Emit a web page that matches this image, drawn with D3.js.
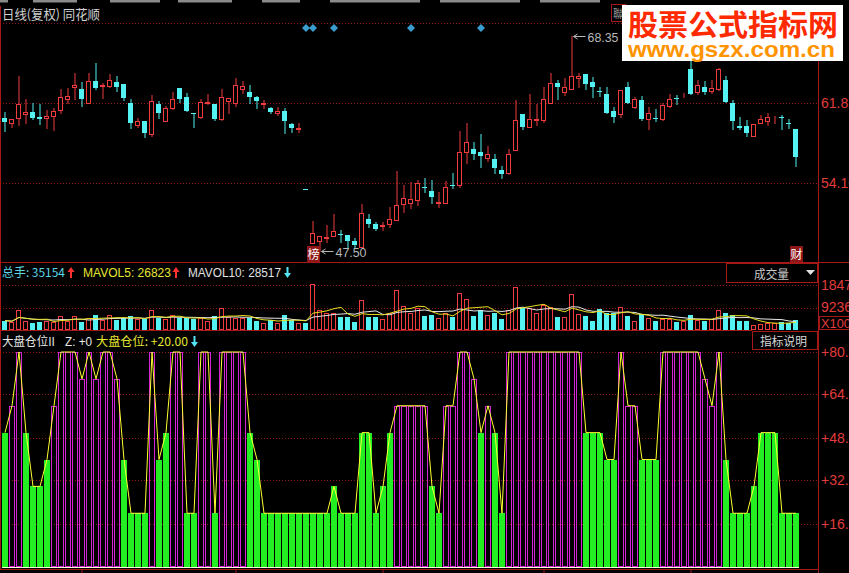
<!DOCTYPE html>
<html><head><meta charset="utf-8">
<script src="https://cdn.jsdelivr.net/npm/d3@7/dist/d3.min.js"></script>
<style>html,body{margin:0;padding:0;background:#000;overflow:hidden}svg{display:block}</style>
</head><body>
<svg id="chart" width="849" height="573"></svg>
<script>
// ---------------- data ----------------
const opens = [60.40,59.91,60.40,60.78,60.98,60.49,60.40,60.59,61.17,62.24,
63.40,63.21,61.85,63.98,63.50,63.50,63.88,63.69,61.85,59.72,
60.11,58.85,61.75,60.11,61.37,63.30,62.43,60.88,60.49,61.85,
61.75,60.30,62.04,61.85,63.21,62.92,62.43,61.75,61.37,60.88,
61.07,59.82,59.33,53.55,48.28,48.48,48.82,48.96,49.16,49.06,
48.48,47.90,50.61,50.12,49.98,50.12,50.51,52.06,52.16,52.45,
53.71,53.32,52.16,52.16,53.90,53.90,57.10,57.39,57.10,56.52,
56.42,55.36,55.07,57.30,60.78,59.52,60.25,60.20,61.85,63.79,
62.92,63.21,64.27,64.66,63.88,62.97,62.72,61.07,60.78,63.40,
61.46,62.14,60.30,60.35,60.30,61.56,62.29,62.48,65.14,62.92,
63.40,63.01,63.21,64.08,61.85,59.62,59.62,58.65,59.91,60.11,
60.35,60.54,59.96,59.33];
const closes = [60.01,60.30,61.75,60.98,60.40,60.30,60.59,61.07,62.43,62.53,
63.59,62.24,63.98,63.30,63.59,64.08,63.40,62.33,59.91,60.11,
58.94,62.04,60.88,61.37,62.24,62.24,61.07,60.85,61.95,61.95,
60.30,62.43,62.33,63.59,63.50,62.43,62.04,61.85,60.98,61.07,
60.11,59.43,59.43,53.52,49.25,48.96,48.87,49.45,49.06,48.48,
48.09,51.19,50.12,49.64,50.03,50.61,51.97,52.64,52.55,54.10,
53.61,52.74,52.26,53.71,53.81,57.10,58.07,56.91,56.71,56.91,
55.55,54.97,56.91,60.20,59.52,60.30,60.30,62.24,63.79,63.40,
63.40,64.47,64.47,63.69,63.40,62.92,60.88,60.49,63.11,61.85,
62.24,60.30,60.88,60.30,61.66,62.24,62.24,62.53,62.72,63.59,
62.92,63.30,65.14,61.95,60.11,59.43,58.94,59.82,60.30,60.49,
60.40,60.49,59.91,56.62];
const highs = [60.98,60.30,64.47,62.24,61.85,61.75,61.17,61.37,63.21,63.30,
64.76,63.88,64.76,65.73,63.79,64.66,64.47,63.69,62.24,60.40,
60.11,62.63,62.04,61.56,62.92,63.30,62.82,60.88,62.24,62.72,
61.75,63.21,62.33,64.27,63.98,63.59,62.53,62.14,61.46,61.46,
61.37,59.91,59.91,53.55,50.42,48.96,50.03,51.09,49.54,49.06,
48.77,52.06,51.09,50.32,50.32,51.77,55.26,53.90,54.20,54.39,
54.58,54.39,53.23,54.29,55.07,59.14,59.91,58.07,58.85,57.68,
56.91,55.75,57.39,62.14,60.78,62.72,61.75,63.40,64.76,64.08,
64.27,68.35,64.76,64.66,64.37,63.40,63.40,61.46,63.11,63.88,
62.43,62.53,61.46,61.27,61.85,62.72,62.63,62.82,65.92,64.08,
63.98,64.08,65.24,64.47,62.14,60.49,60.20,59.82,60.69,60.88,
60.59,60.69,60.30,59.33];
const lows = [59.14,59.52,59.72,59.91,60.30,59.82,59.43,59.23,60.88,61.85,
62.24,61.56,61.85,63.21,62.33,63.40,63.01,62.14,59.43,59.52,
58.56,58.65,60.40,60.11,61.27,61.95,61.07,59.52,60.40,61.75,
60.20,60.20,60.88,61.56,62.82,61.85,61.37,61.37,60.88,60.69,
58.94,59.04,59.04,53.52,48.28,47.50,48.38,48.96,48.38,47.80,
47.90,47.90,49.83,49.54,49.54,49.83,50.51,51.29,51.68,51.97,
53.23,52.16,51.77,52.16,53.61,53.71,56.04,56.42,55.65,56.23,
55.07,54.58,54.97,57.30,59.33,59.52,59.72,60.01,61.85,62.24,
62.63,63.21,63.40,63.21,62.43,62.53,60.88,60.01,60.49,61.85,
61.37,60.20,59.33,60.11,60.20,61.46,61.75,62.43,62.72,62.72,
62.72,62.82,63.11,61.95,59.33,59.33,58.65,58.65,59.91,59.72,
59.91,59.33,59.43,55.75];
const volumes = [3831,3421,8210,3695,3010,3421,3831,3421,5747,3695,
5747,3421,4790,6158,4105,6158,4105,4790,5747,4379,
4379,8210,4790,4379,6158,4790,4790,4379,4790,3695,
5747,8895,5474,4790,4790,4790,3695,2737,4105,3010,
6158,4105,2737,2737,18883,8210,6842,7115,5474,5200,
3421,12315,5474,5474,4379,6842,16420,9852,6842,8895,
5747,6158,4790,7115,5200,15051,12586,5747,8210,6158,
6842,4379,8210,17515,8895,8895,7115,10263,9579,5200,
5200,14639,6568,5747,3695,8484,7115,6842,9305,5747,
3831,6568,4790,3831,4379,4379,3421,3831,6158,4105,
3831,4379,8210,6842,6158,3831,3831,2053,2463,3010,
2737,3421,2737,4105];
const positions = [50,60,80,50,30,30,40,60,80,80,
80,70,80,70,80,80,70,40,20,20,
20,80,40,50,80,80,20,20,80,80,
20,80,80,80,80,50,40,20,20,20,
20,20,20,20,20,20,20,30,20,20,
20,50,50,20,30,50,60,60,60,60,
60,30,20,60,60,80,80,70,50,60,
50,20,80,80,80,80,80,80,80,80,
80,80,80,50,50,50,40,40,80,60,
60,40,40,40,80,80,80,80,80,80,
70,60,80,40,20,20,20,30,50,50,
50,20,20,20];
const priceGrid = [69.60, 61.85, 54.10];
const priceTicks = [61.85, 54.10];
const volumeTicks = [18472, 9236];
const positionTicks = [80.0, 64.2, 48.0, 32.2, 16.1];
const signalIdx = [43, 44, 47, 58, 68];
const tagMarks = [{i: 44, t: "榜"}, {i: 113, t: "财"}];
const monthStartIdx = [11, 33, 54, 77, 98];

// ---------------- setup ----------------
const W = 849, H = 573;
const RED = "#f03c3c", CYAN = "#54f2f2", GRID = "#8c1c1c", BORDER = "#a41818", AXIS = "#e23c3c";
const GREEN = "#22ee22", PURPLE = "#d424d4", YELLOW = "#ffff30";
const LATIN = "'Liberation Sans', Arial, sans-serif", CJK = "'Noto Sans CJK SC', 'Liberation Sans', sans-serif";
const svg = d3.select("#chart");
svg.append("rect").attr("width", W).attr("height", H).attr("fill", "#000");
const N = opens.length;
const x = d3.scaleBand().domain(d3.range(N)).range([1.5, 1.5 + 7 * N]);
const cx = i => x(i) + 3;
const crisp = v => Math.round(v) + 0.5;
const up = i => closes[i] >= opens[i];

function txt(g, s, xx, yy, fill, size, len, fam) {
  const t = g.append("text").attr("x", xx).attr("y", yy).attr("fill", fill)
    .attr("font-size", size).attr("font-family", fam || LATIN).text(s);
  if (len) t.attr("textLength", len).attr("lengthAdjust", "spacingAndGlyphs");
  return t;
}
function arrow(g, xc, yTop, yBot, dir, color) {
  const hy = dir > 0 ? yTop : yBot, by = dir > 0 ? yTop + 5 : yBot - 5;
  g.append("path").attr("d", `M${xc - 3.5},${by} L${xc},${hy} L${xc + 3.5},${by} Z`).attr("fill", color);
  g.append("rect").attr("x", xc - 1).attr("width", 2)
    .attr("y", dir > 0 ? by : yTop).attr("height", dir > 0 ? yBot - by : by - yTop).attr("fill", color);
}

// top toolbar remnants
const tb = svg.append("g");
[[0,8],[33,77],[110,160],[178,232],[262,300],[330,420],[440,520],[540,600]].forEach(s =>
  tb.append("rect").attr("x", s[0]).attr("y", 0).attr("width", s[1] - s[0]).attr("height", 2.5).attr("fill", "#8a8a8a"));

// ---------------- main price panel ----------------
const yP = d3.scaleLinear().domain([54.10, 61.85]).range([183, 103]);
const gMain = svg.append("g");
gMain.selectAll("line.pg").data(priceGrid).join("line").attr("class", "pg")
  .attr("x1", 0).attr("x2", 818).attr("y1", d => crisp(yP(d))).attr("y2", d => crisp(yP(d)))
  .attr("stroke", GRID).attr("stroke-dasharray", "1,2");
svg.append("g").attr("transform", "translate(818,0)")
  .call(d3.axisRight(yP).tickValues(priceTicks).tickSize(0).tickPadding(3).tickFormat(d3.format(".2f")))
  .call(g => g.select(".domain").remove())
  .call(g => g.selectAll("text").attr("fill", AXIS).attr("font-size", 14).attr("font-family", LATIN));

txt(svg, "日线(复权) 同花顺", 2, 19, "#d0d0d0", 13, 98, CJK);

const candles = gMain.selectAll("g.c").data(d3.range(N)).join("g").attr("class", "c");
candles.append("line")
  .attr("x1", i => cx(i) + 0.5).attr("x2", i => cx(i) + 0.5)
  .attr("y1", i => Math.round(yP(highs[i]))).attr("y2", i => Math.round(yP(lows[i])) + 1)
  .attr("stroke", i => up(i) ? RED : CYAN);
candles.append("rect")
  .attr("x", i => up(i) ? x(i) + 1 : x(i) + 0.5)
  .attr("width", i => up(i) ? 4 : 5)
  .attr("y", i => up(i) ? crisp(yP(Math.max(opens[i], closes[i]))) : Math.round(yP(Math.max(opens[i], closes[i]))))
  .attr("height", i => {
    const h = Math.round(yP(Math.min(opens[i], closes[i]))) - Math.round(yP(Math.max(opens[i], closes[i])));
    return up(i) ? Math.max(h, 0) : Math.max(h, 1);
  })
  .attr("fill", i => up(i) ? "#000" : CYAN)
  .attr("stroke", i => up(i) ? RED : "none");

// signal diamonds
gMain.selectAll("path.sig").data(signalIdx).join("path").attr("class", "sig")
  .attr("d", i => { const c = cx(i) + 0.5; return `M${c},24 L${c + 4},28 L${c},32 L${c - 4},28 Z`; })
  .attr("fill", "#3a9ccc");

// extremes annotations
const lowIdx = d3.minIndex(lows), highIdx = d3.maxIndex(highs);
function extremeLabel(i, val) {
  const yy = Math.round(yP(val)) + 0.5, x0 = cx(i) + 2;
  gMain.append("path").attr("d", `M${x0},${yy} H${x0 + 12} M${x0},${yy} l4,-2.5 M${x0},${yy} l4,2.5`)
    .attr("stroke", "#b8b8b8").attr("fill", "none");
  txt(gMain, d3.format(".2f")(val), x0 + 14, yy + 5, "#b8b8b8", 13, 31);
}
extremeLabel(lowIdx, lows[lowIdx]);
extremeLabel(highIdx, highs[highIdx]);

// tags
const tags = gMain.selectAll("g.tag").data(tagMarks).join("g").attr("class", "tag");
tags.append("rect").attr("x", d => cx(d.i) - 5.5).attr("y", 246).attr("width", 13).attr("height", 16).attr("fill", "#8e1616");
tags.append("text").attr("x", d => cx(d.i) + 1).attr("y", 259).attr("text-anchor", "middle")
  .attr("fill", "#ffffff").attr("font-size", 12).attr("font-family", CJK).text(d => d.t);

// ---------------- volume panel ----------------
const yV = d3.scaleLinear().domain([0, 18472]).range([330, 285]);
const gVol = svg.append("g");
gVol.selectAll("line.vg").data(volumeTicks).join("line").attr("class", "vg")
  .attr("x1", 0).attr("x2", 818).attr("y1", d => crisp(yV(d))).attr("y2", d => crisp(yV(d)))
  .attr("stroke", GRID).attr("stroke-dasharray", "1,2");
svg.append("g").attr("transform", "translate(818,0)")
  .call(d3.axisRight(yV).tickValues(volumeTicks).tickSize(0).tickPadding(3).tickFormat(d3.format("d")))
  .call(g => g.select(".domain").remove())
  .call(g => g.selectAll("text").attr("fill", AXIS).attr("font-size", 14).attr("font-family", LATIN));

gVol.selectAll("rect.v").data(d3.range(N)).join("rect").attr("class", "v")
  .attr("x", i => up(i) ? x(i) + 1 : x(i) + 0.5)
  .attr("width", i => up(i) ? 4 : 5)
  .attr("y", i => up(i) ? crisp(yV(volumes[i])) : Math.round(yV(volumes[i])))
  .attr("height", i => up(i) ? 330 - Math.round(yV(volumes[i])) - 1 : 330 - Math.round(yV(volumes[i])))
  .attr("fill", i => up(i) ? "#000" : CYAN)
  .attr("stroke", i => up(i) ? RED : "none");

const movAvg = (arr, n) => arr.map((_, i) => d3.mean(arr.slice(Math.max(0, i - n + 1), i + 1)));
const ma5 = movAvg(volumes, 5), ma10 = movAvg(volumes, 10);
const vLine = d3.line().x((d, i) => cx(i) + 0.5).y(d => yV(d));
gVol.append("path").attr("d", vLine(ma10)).attr("fill", "none").attr("stroke", "#e8e8e8");
gVol.append("path").attr("d", vLine(ma5)).attr("fill", "none").attr("stroke", "#e8e020");

// volume header
txt(svg, "总手: 35154", 2, 277, "#5cd6e6", 12, 63, CJK);
arrow(svg, 71, 267, 278, 1, "#ff3030");
txt(svg, "MAVOL5: 26823", 83, 277, "#e6e632", 12, 88);
arrow(svg, 176, 267, 278, 1, "#ff3030");
txt(svg, "MAVOL10: 28517", 188, 277, "#e0e0e0", 12, 93);
arrow(svg, 287.5, 267, 278, -1, "#54e6f6");

// 成交量 box
svg.append("rect").attr("x", 726.5).attr("y", 263.5).attr("width", 91).attr("height", 19)
  .attr("fill", "#000").attr("stroke", BORDER);
txt(svg, "成交量", 754, 279, "#c8c8c8", 12, 35, CJK);
svg.append("path").attr("d", "M806,270 L815,270 L810.5,275 Z").attr("fill", "#e0e0e0");
// X100 box
svg.append("rect").attr("x", 819.5).attr("y", 316.5).attr("width", 34).attr("height", 13)
  .attr("fill", "none").attr("stroke", BORDER);
txt(svg, "X100", 821, 328, AXIS, 13, 30);

// ---------------- position indicator panel ----------------
const yQ = d3.scaleLinear().domain([0, 80]).range([567, 352]);
const gPos = svg.append("g");
gPos.selectAll("line.qg").data(positionTicks).join("line").attr("class", "qg")
  .attr("x1", 0).attr("x2", 818).attr("y1", d => crisp(yQ(d))).attr("y2", d => crisp(yQ(d)))
  .attr("stroke", GRID).attr("stroke-dasharray", "1,2");
svg.append("g").attr("transform", "translate(818,0)")
  .call(d3.axisRight(yQ).tickValues(positionTicks).tickSize(0).tickPadding(3).tickFormat(d => "+" + d3.format(".1f")(d)))
  .call(g => g.select(".domain").remove())
  .call(g => g.selectAll("text").attr("fill", AXIS).attr("font-size", 14).attr("font-family", LATIN));

const high = v => v > 50;
gPos.selectAll("rect.q").data(d3.range(N)).join("rect").attr("class", "q")
  .attr("x", i => high(positions[i]) ? x(i) + 1 : x(i) + 0.5)
  .attr("width", i => high(positions[i]) ? 5 : 6)
  .attr("y", i => high(positions[i]) ? crisp(yQ(positions[i])) : Math.round(yQ(positions[i])))
  .attr("height", i => 567 - Math.round(yQ(positions[i])) - (high(positions[i]) ? 1 : 0))
  .attr("fill", i => high(positions[i]) ? "none" : GREEN)
  .attr("stroke", i => high(positions[i]) ? PURPLE : "none");
gPos.append("line").attr("x1", 2).attr("x2", x(N - 1) + 6.5).attr("y1", 567.5).attr("y2", 567.5)
  .attr("stroke", "#ffffd8");
gPos.append("path").attr("d", d3.line().x((d, i) => cx(i) + 0.5).y(d => yQ(d))(positions))
  .attr("fill", "none").attr("stroke", YELLOW);

// indicator header
txt(svg, "大盘仓位II", 2, 346, "#e8e8e8", 12, 53, CJK);
txt(svg, "Z: +0", 65, 346, "#e8e8e8", 12, 27);
txt(svg, "大盘仓位: +20.00", 96, 346, "#e6e632", 12, 92, CJK);
arrow(svg, 194.5, 336, 347, -1, "#54e6f6");
svg.append("rect").attr("x", 752.5).attr("y", 331.5).attr("width", 65).attr("height", 18)
  .attr("fill", "#000").attr("stroke", BORDER);
txt(svg, "指标说明", 760, 346, "#d8d8d8", 12, 47, CJK);

// ---------------- frame lines ----------------
const fr = svg.append("g").attr("stroke", BORDER).attr("fill", "none");
fr.append("line").attr("x1", 0.5).attr("x2", 0.5).attr("y1", 6).attr("y2", 570);
fr.append("line").attr("x1", 818.5).attr("x2", 818.5).attr("y1", 6).attr("y2", 573);
fr.append("line").attr("x1", 0).attr("x2", 849).attr("y1", 262.5).attr("y2", 262.5);
fr.append("line").attr("x1", 0).attr("x2", 752).attr("y1", 330.5).attr("y2", 330.5);
fr.append("line").attr("x1", 0).attr("x2", 818).attr("y1", 569.5).attr("y2", 569.5);
fr.selectAll("line.mt").data(monthStartIdx).join("line").attr("class", "mt")
  .attr("x1", i => cx(i) + 0.5).attr("x2", i => cx(i) + 0.5).attr("y1", 569).attr("y2", 573);

// tab remnant
svg.append("rect").attr("x", 611.5).attr("y", 4.5).attr("width", 14).attr("height", 17).attr("fill", "#000").attr("stroke", BORDER);
txt(svg, "聯", 613, 18, "#9a9a9a", 11, 10, CJK);

// ---------------- watermark ----------------
svg.append("rect").attr("x", 622).attr("y", 5).attr("width", 221).attr("height", 56).attr("fill", "#ffffff");
txt(svg, "股票公式指标网", 628, 36, "#ff2a00", 29, 210, CJK).attr("font-weight", "bold");
txt(svg, "www.gszx.com.cn", 628, 57, "#ff9400", 22, 207).attr("font-weight", "bold");
</script>
</body></html>
